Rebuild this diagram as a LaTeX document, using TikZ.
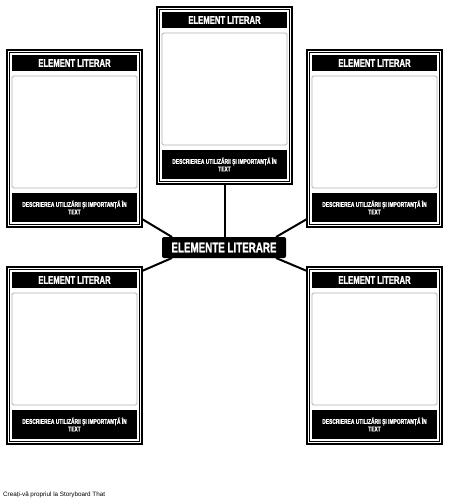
\documentclass[tikz,border=0pt]{standalone}
\usepackage{fontspec}
\setmainfont{Liberation Sans}
\newfontfamily\condfont[FakeStretch=0.7,FakeBold=1.2]{Liberation Sans Bold}
\usetikzlibrary{calc}
\tikzset{
  cardframe/.style={draw=black, line width=1.8pt, fill=white, minimum width=135pt, minimum height=177pt, anchor=north west, inner sep=0pt, outer sep=0pt},
  cardinner/.style={draw=black, line width=0.9pt, minimum width=129.8pt, minimum height=171.8pt, inner sep=0pt, outer sep=0pt},
  titlebar/.style={fill=black, text=white, minimum width=125pt, minimum height=16pt, inner sep=0pt, outer sep=0pt, anchor=north, font=\condfont\fontsize{11}{11}\selectfont},
  picbox/.style={draw=black!30, line width=0.8pt, rounded corners=1.5pt, fill=white, minimum width=125pt, minimum height=112pt, inner sep=0pt, outer sep=0pt, anchor=north},
  descbar/.style={fill=black, text=white, minimum width=125pt, minimum height=29pt, inner sep=0pt, outer sep=0pt, anchor=north, align=center, font=\condfont\fontsize{7}{7.5}\selectfont},
  hubnode/.style={fill=black, text=white, rounded corners=2pt, minimum width=124pt, minimum height=21pt, inner sep=0pt, outer sep=0pt, font=\condfont\fontsize{14}{14}\selectfont},
  link/.style={draw=black, line width=2pt},
}
\newcommand\makecard[3]{%
  \node[cardframe] (#1) at (#2,#3) {};
  \node[cardinner] (#1-in) at (#1.center) {};
  \node[titlebar] (#1-t) at ($(#1.north)+(0,5)$) {ELEMENT LITERAR};
  \node[picbox] (#1-p) at ($(#1.north)+(0,26)$) {};
  \node[descbar] (#1-b) at ($(#1.north)+(0,143)$) {DESCRIEREA UTILIZĂRII ȘI IMPORTANȚĂ ÎN\\TEXT};
}
\begin{document}
\begin{tikzpicture}[x=1pt,y=-1pt]
\fill[white] (0,0) rectangle (450,503);
\useasboundingbox (0,0) rectangle (450,503);
\node[hubnode] (hub) at (224,247.5) {ELEMENTE LITERARE};
\makecard{tc}{157}{7}
\makecard{tl}{7}{50}
\makecard{tr}{307}{50}
\makecard{bl}{7}{267}
\makecard{br}{307}{267}
\draw[link] (tc.south) -- (tc.south |- hub.north);
\draw[link] ($(tl.south east)+(0,-8)$) -- ($(hub.north west)+(10,0)$);
\draw[link] ($(tr.south west)+(0,-8)$) -- ($(hub.north east)+(-10,0)$);
\draw[link] ($(bl.north east)+(0,4)$) -- ($(hub.south west)+(10,0)$);
\draw[link] ($(br.north west)+(0,4)$) -- ($(hub.south east)+(-10,0)$);
\node[anchor=west, inner sep=0pt, font=\fontsize{6.3}{6.5}\selectfont] (foot) at (3,494.5) {Creați-vă propriul la Storyboard That};
\end{tikzpicture}
\end{document}
